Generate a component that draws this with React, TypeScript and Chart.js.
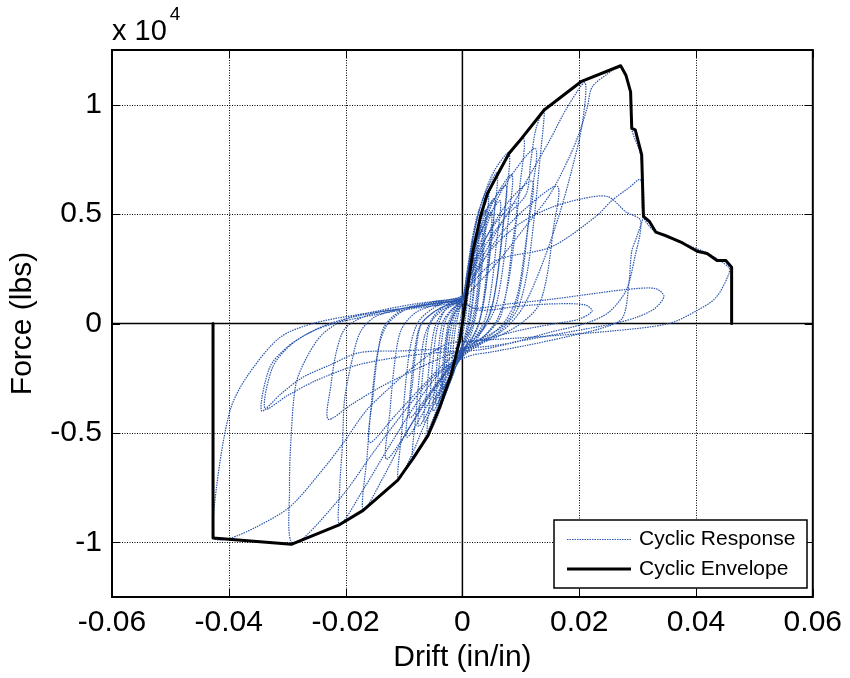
import React, { useEffect, useRef } from 'react';
import { Chart, registerables } from 'chart.js';

Chart.register(...registerables);

const xTickValues = [-0.06, -0.04, -0.02, 0, 0.02, 0.04, 0.06];
const xTickLabels = ['-0.06', '-0.04', '-0.02', '0', '0.02', '0.04', '0.06'];
const yTickValues = [-10000, -5000, 0, 5000, 10000];
const yTickLabels = ['-1', '-0.5', '0', '0.5', '1'];

const legendLabels = ['Cyclic Response', 'Cyclic Envelope'];

const envelopeDrift = [
  -0.0427, -0.0427, -0.040, -0.0293, -0.021, -0.017, -0.0111, -0.0085, -0.0059, -0.0039, -0.0019, -0.0005, 0,
  0.0008, 0.0018, 0.0031, 0.0043, 0.008, 0.0097, 0.014, 0.0203, 0.0271, 0.028, 0.0288, 0.029, 0.0296, 0.0307,
  0.031, 0.032, 0.0331, 0.0347, 0.0377, 0.0402, 0.0419, 0.0436, 0.0451, 0.0461, 0.0461,
];
const envelopeForce = [
  0, -9800, -9860, -10090, -9190, -8540, -7175, -6190, -5125, -3835, -2315, -800, 0,
  1500, 3300, 4900, 5960, 7780, 8315, 9760, 11050, 11780, 11350, 10590, 8920, 8850, 7710,
  4900, 4670, 4180, 4030, 3680, 3300, 3200, 2880, 2880, 2570, 0,
];

type P = [number, number];

const cycle01: P[] = [[0, 0], [0.0004, 700], [0.0008, 1250], [0.001, 1500], [0.0008, 900], [0.0005, 200], [0.0002, -300], [-0.0002, -700], [-0.0006, -1050], [-0.001, -1300], [-0.0008, -700], [-0.0005, -100], [-0.0002, 400], [0, 600]];
const cycle02: P[] = [[0.0005, 1300], [0.001, 2100], [0.0015, 2650], [0.002, 3000], [0.0017, 2000], [0.0012, 700], [0.0008, -100], [0.0003, -700], [-0.0003, -1200], [-0.001, -1800], [-0.0015, -2250], [-0.002, -2500], [-0.0017, -1500], [-0.0013, -400], [-0.0008, 300], [-0.0003, 800], [0, 1000]];
const cycle03: P[] = [[0.0005, 1400], [0.0012, 2400], [0.0019, 3100], [0.0025, 3500], [0.0021, 2200], [0.0016, 800], [0.001, -100], [0.0004, -700], [-0.0004, -1200], [-0.0012, -1700], [-0.0019, -2100], [-0.0025, -2300], [-0.0021, -1300], [-0.0016, -300], [-0.001, 400], [-0.0004, 800], [0, 950]];
const cycle04: P[] = [[0.0006, 1900], [0.0013, 3000], [0.0022, 4000], [0.003, 4600], [0.0026, 3200], [0.002, 1500], [0.0014, 200], [0.0008, -500], [0.0002, -1000], [-0.0008, -1700], [-0.0018, -2500], [-0.0027, -3000], [-0.0035, -3300], [-0.0031, -2100], [-0.0026, -800], [-0.002, 100], [-0.0012, 600], [-0.0004, 900], [0, 1100]];
const cycle05: P[] = [[0.0007, 2200], [0.0015, 3600], [0.0025, 4900], [0.0035, 5600], [0.0045, 6000], [0.004, 4300], [0.0032, 2200], [0.0024, 500], [0.0016, -400], [0.0006, -1000], [-0.0005, -1500], [-0.0015, -2200], [-0.0028, -3200], [-0.004, -3850], [-0.0036, -2500], [-0.003, -1000], [-0.0024, 0], [-0.0015, 600], [-0.0005, 950], [0, 1100]];
const cycle06: P[] = [[0.0008, 2000], [0.0018, 3200], [0.0028, 4000], [0.0035, 4400], [0.003, 2800], [0.0024, 1200], [0.0016, 0], [0.0008, -600], [-0.0002, -1100], [-0.0012, -1800], [-0.0022, -2400], [-0.003, -2800], [-0.0026, -1600], [-0.002, -300], [-0.0012, 500], [-0.0004, 900], [0, 1050]];
const cycle07: P[] = [[0.0008, 2300], [0.0018, 3900], [0.003, 5300], [0.0045, 6300], [0.006, 6900], [0.0054, 4900], [0.0045, 2600], [0.0036, 900], [0.0026, -200], [0.0012, -900], [0, -1400], [-0.0015, -2200], [-0.003, -3300], [-0.0045, -4400], [-0.006, -5100], [-0.0056, -3500], [-0.005, -1600], [-0.0043, -200], [-0.003, 600], [-0.0015, 1000], [0, 1200]];
const cycle08: P[] = [[0.001, 2300], [0.002, 3500], [0.0035, 4600], [0.005, 5100], [0.0045, 3300], [0.0038, 1500], [0.003, 200], [0.0018, -600], [0.0005, -1100], [-0.001, -1700], [-0.0025, -2700], [-0.0045, -3700], [-0.0041, -2300], [-0.0035, -700], [-0.0028, 200], [-0.0015, 700], [0, 1000]];
const cycle09: P[] = [[0.0009, 2200], [0.002, 3600], [0.0035, 4900], [0.0055, 5700], [0.0049, 3800], [0.0041, 1800], [0.0032, 400], [0.002, -500], [0.0006, -1000], [-0.001, -1700], [-0.003, -2900], [-0.005, -4000], [-0.0046, -2600], [-0.004, -900], [-0.0033, 100], [-0.002, 600], [-0.0007, 900], [0, 1050]];
const cycle10: P[] = [[0.0009, 2400], [0.002, 4100], [0.0035, 5700], [0.0055, 7000], [0.008, 7800], [0.0074, 5600], [0.0065, 3200], [0.0055, 1300], [0.0042, 100], [0.0025, -700], [0.0005, -1300], [-0.0015, -2100], [-0.0035, -3300], [-0.006, -5000], [-0.0085, -6200], [-0.008, -4300], [-0.0073, -2200], [-0.0065, -600], [-0.005, 300], [-0.003, 800], [-0.001, 1100], [0, 1200]];
const cycle11: P[] = [[0.001, 2100], [0.0025, 3700], [0.0045, 4900], [0.0065, 5600], [0.0058, 3600], [0.005, 1700], [0.004, 300], [0.0025, -500], [0.0008, -1100], [-0.0012, -1800], [-0.0035, -2900], [-0.0065, -4500], [-0.006, -2800], [-0.0053, -1000], [-0.0045, 0], [-0.003, 600], [-0.0012, 900], [0, 1100]];
const cycle12: P[] = [[0.001, 2300], [0.0025, 3900], [0.0045, 5300], [0.0075, 6300], [0.0068, 4200], [0.0059, 2000], [0.0048, 500], [0.003, -400], [0.001, -1000], [-0.0015, -1800], [-0.0045, -3300], [-0.0075, -4700], [-0.007, -2900], [-0.0063, -1100], [-0.0055, 0], [-0.0035, 600], [-0.0015, 900], [0, 1100]];
const cycle13: P[] = [[0.001, 2300], [0.0025, 4200], [0.0045, 5900], [0.0075, 7500], [0.0105, 8450], [0.0098, 6200], [0.0088, 3600], [0.0076, 1500], [0.006, 200], [0.004, -500], [0.0015, -1100], [-0.0005, -1700], [-0.003, -2800], [-0.006, -4300], [-0.0085, -5900], [-0.011, -7150], [-0.0104, -5000], [-0.0097, -2700], [-0.0088, -900], [-0.0075, 100], [-0.005, 700], [-0.0025, 1000], [0, 1200]];
const cycle14: P[] = [[0.0012, 2000], [0.003, 3400], [0.006, 4700], [0.0092, 5500], [0.0085, 3500], [0.0076, 1600], [0.0065, 300], [0.0045, -400], [0.002, -900], [-0.0005, -1400], [-0.003, -2200], [-0.006, -3300], [-0.009, -4300], [-0.0085, -2600], [-0.0078, -900], [-0.007, 0], [-0.005, 500], [-0.0025, 850], [0, 1050]];
const cycle15: P[] = [[0.0012, 2000], [0.004, 3600], [0.0075, 4900], [0.0109, 5900], [0.0117, 7400], [0.0126, 8900], [0.014, 9800], [0.0132, 7300], [0.0122, 4600], [0.011, 2200], [0.0095, 700], [0.007, -200], [0.004, -800], [0.001, -1300], [-0.002, -2000], [-0.006, -3400], [-0.010, -5200], [-0.0135, -7000], [-0.017, -8540], [-0.0163, -6000], [-0.0155, -3400], [-0.0145, -1300], [-0.013, -100], [-0.010, 600], [-0.006, 900], [-0.002, 1100], [0, 1300]];
const cycle16: P[] = [[0.0015, 2200], [0.004, 3900], [0.008, 5600], [0.012, 6500], [0.0112, 4300], [0.0102, 2100], [0.009, 700], [0.007, -100], [0.004, -600], [0.0005, -1100], [-0.003, -1800], [-0.007, -2900], [-0.0115, -4200], [-0.0159, -5430], [-0.0153, -3300], [-0.0145, -1400], [-0.0135, -200], [-0.011, 500], [-0.007, 800], [-0.003, 1000], [0, 1150]];
const cycle17: P[] = [[0.0015, 2000], [0.005, 3800], [0.009, 5600], [0.012, 7000], [0.015, 8400], [0.018, 9900], [0.021, 11000], [0.0205, 9090], [0.0188, 7090], [0.0166, 4990], [0.0135, 2600], [0.0103, 710], [0.007, -300], [0.003, -900], [0, -1400], [-0.004, -2300], [-0.008, -3700], [-0.0125, -5600], [-0.017, -7600], [-0.021, -9190], [-0.021, -7480], [-0.0205, -5350], [-0.0202, -3530], [-0.019, -1800], [-0.0175, -400], [-0.015, 300], [-0.01, 700], [-0.005, 1000], [0, 1250]];
const cycle18: P[] = [[0.002, 2100], [0.006, 3900], [0.011, 5300], [0.0163, 6260], [0.0155, 4200], [0.0145, 2200], [0.013, 800], [0.01, 0], [0.006, -600], [0.002, -1000], [-0.003, -1500], [-0.008, -2100], [-0.014, -2900], [-0.019, -3700], [-0.023, -4370], [-0.0225, -2800], [-0.0215, -1200], [-0.02, -200], [-0.016, 400], [-0.01, 700], [-0.004, 950], [0, 1100]];
const cycle19: P[] = [[0.0015, 1500], [0.006, 2800], [0.011, 4500], [0.015, 5900], [0.0183, 7600], [0.02, 8700], [0.0214, 9900], [0.0222, 10800], [0.0248, 11400], [0.027, 11750], [0.028, 11300], [0.0288, 10500], [0.029, 8900], [0.0305, 7700], [0.031, 5000], [0.0299, 4000], [0.029, 3300], [0.0285, 1800], [0.0274, 250], [0.024, -200], [0.018, -600], [0.011, -1000], [0.005, -1300], [0.001, -1500], [-0.004, -2200], [-0.009, -3700], [-0.015, -5800], [-0.021, -8000], [-0.029, -10050], [-0.0296, -7480], [-0.0293, -5040], [-0.0285, -2760], [-0.0267, -1570], [-0.024, -500], [-0.02, 200], [-0.014, 600], [-0.008, 900], [-0.002, 1100], [0, 1200]];
const cycle20: P[] = [[0.0015, 2000], [0.005, 3400], [0.01, 4600], [0.0152, 5300], [0.0205, 5700], [0.0249, 5800], [0.028, 5100], [0.0305, 4700], [0.0295, 3000], [0.028, 1500], [0.025, 500], [0.021, 0], [0.015, -400], [0.008, -900], [0.002, -1100], [-0.003, -1150], [-0.01, -1250], [-0.0176, -1330], [-0.0227, -1900], [-0.0274, -2470], [-0.031, -3200], [-0.0344, -3990], [-0.033, -2010], [-0.0301, -1100], [-0.0267, -490], [-0.0227, 0], [-0.017, 400], [-0.01, 700], [-0.004, 950], [0, 1100]];
const cycle21: P[] = [[0.0015, 1800], [0.006, 2900], [0.0152, 3500], [0.0229, 4900], [0.0255, 5600], [0.0285, 6200], [0.0305, 6570], [0.031, 4900], [0.033, 4200], [0.0377, 3680], [0.042, 3200], [0.0456, 2570], [0.0456, 2250], [0.0434, 1180], [0.04, 570], [0.0354, 0], [0.0257, -340], [0.0132, -600], [0.0017, -800], [-0.0028, -950], [-0.0085, -2010], [-0.013, -3070], [-0.0165, -3990], [-0.0205, -5500], [-0.0245, -6870], [-0.0296, -8390], [-0.0353, -9300], [-0.0401, -9840], [-0.0425, -9800], [-0.0421, -7480], [-0.0398, -3990], [-0.037, -2470], [-0.0313, -650], [-0.0256, 0], [-0.018, 400], [-0.01, 700], [-0.004, 900], [0, 1000]];
const cycle22: P[] = [[0.002, 700], [0.008, 900], [0.015, 1100], [0.022, 1350], [0.028, 1550], [0.033, 1600], [0.0345, 1250], [0.033, 700], [0.03, 300], [0.026, 0], [0.018, -400], [0.01, -800], [0.003, -1200], [-0.003, -1300], [-0.01, -1500], [-0.018, -1900], [-0.025, -2600], [-0.03, -3300], [-0.0338, -3900], [-0.0325, -2000], [-0.0295, -1000], [-0.026, -400], [-0.022, 0], [-0.015, 400], [-0.008, 700], [0, 900]];
const cycle23: P[] = [[0.003, 600], [0.01, 800], [0.016, 900], [0.021, 850], [0.0222, 570], [0.02, 200], [0.016, 0], [0.01, -300], [0.004, -700], [0, -900]];
const cycle24: P[] = [[0.0006, 1700], [0.0015, 3000], [0.0028, 4400], [0.004, 5200], [0.0035, 3500], [0.0028, 1600], [0.002, 200], [0.001, -600], [-0.0005, -1300], [-0.0018, -2200], [-0.0035, -3000], [-0.0031, -1800], [-0.0025, -400], [-0.0015, 400], [0, 900]];
const cycle25: P[] = [[0.001, 2000], [0.0028, 3800], [0.0055, 5700], [0.0085, 6800], [0.0078, 4600], [0.0068, 2300], [0.0056, 700], [0.0035, -300], [0.001, -1000], [-0.002, -1900], [-0.0055, -3500], [-0.0095, -5200], [-0.009, -3300], [-0.0082, -1300], [-0.0072, -100], [-0.0045, 600], [-0.0015, 950], [0, 1100]];
const cycle26: P[] = [[0.0012, 2100], [0.0035, 4000], [0.007, 6200], [0.0125, 8000], [0.0117, 5600], [0.0105, 3000], [0.0092, 1100], [0.007, 0], [0.004, -700], [0.001, -1200], [-0.003, -2300], [-0.008, -4300], [-0.013, -6200], [-0.0124, -4000], [-0.0116, -1800], [-0.0105, -300], [-0.008, 500], [-0.004, 900], [0, 1150]];

const responseCycles: P[][] = [
  cycle01, cycle02, cycle03, cycle04, cycle24, cycle05, cycle06, cycle07, cycle08, cycle09, cycle10, cycle11, cycle12,
  cycle25, cycle13, cycle14, cycle26, cycle15, cycle16, cycle17, cycle18, cycle19, cycle20, cycle21, cycle22, cycle23,
];

const FONT = "'Liberation Sans', Arial, Helvetica, sans-serif";
const BLUE = '#2a56ae';

const framePlugin = {
  id: 'matlabFrame',
  beforeDatasetsDraw(chart: any) {
    const { ctx, chartArea: a, scales } = chart;
    const x = scales.x;
    const y = scales.y;
    ctx.save();
    ctx.strokeStyle = '#000';
    ctx.lineWidth = 1;
    ctx.setLineDash([1, 1.5]);
    xTickValues.forEach((v) => {
      if (v === 0 || v === xTickValues[0] || v === xTickValues[xTickValues.length - 1]) return;
      const px = Math.round(x.getPixelForValue(v)) + 0.5;
      ctx.beginPath();
      ctx.moveTo(px, a.top);
      ctx.lineTo(px, a.bottom);
      ctx.stroke();
    });
    yTickValues.forEach((v) => {
      if (v === 0) return;
      const py = Math.round(y.getPixelForValue(v)) + 0.5;
      ctx.beginPath();
      ctx.moveTo(a.left, py);
      ctx.lineTo(a.right, py);
      ctx.stroke();
    });
    ctx.setLineDash([]);
    ctx.lineWidth = 1.5;
    const x0 = x.getPixelForValue(0);
    const y0 = y.getPixelForValue(0);
    ctx.beginPath();
    ctx.moveTo(x0, a.top);
    ctx.lineTo(x0, a.bottom);
    ctx.moveTo(a.left, y0);
    ctx.lineTo(a.right, y0);
    ctx.stroke();
    ctx.restore();
  },
  afterDatasetsDraw(chart: any) {
    const { ctx, chartArea: a, scales } = chart;
    const x = scales.x;
    const y = scales.y;
    ctx.save();
    ctx.strokeStyle = '#000';
    ctx.lineWidth = 1;
    const tl = 8;
    xTickValues.forEach((v) => {
      const px = Math.round(x.getPixelForValue(v)) + 0.5;
      ctx.beginPath();
      ctx.moveTo(px, a.bottom);
      ctx.lineTo(px, a.bottom - tl);
      ctx.moveTo(px, a.top);
      ctx.lineTo(px, a.top + tl);
      ctx.stroke();
    });
    yTickValues.forEach((v) => {
      const py = Math.round(y.getPixelForValue(v)) + 0.5;
      ctx.beginPath();
      ctx.moveTo(a.left, py);
      ctx.lineTo(a.left + tl, py);
      ctx.moveTo(a.right, py);
      ctx.lineTo(a.right - tl, py);
      ctx.stroke();
    });
    ctx.lineWidth = 2;
    ctx.strokeRect(a.left, a.top, a.right - a.left, a.bottom - a.top);

    // exponent label
    ctx.fillStyle = '#000';
    ctx.textBaseline = 'alphabetic';
    ctx.textAlign = 'left';
    ctx.font = `29px ${FONT}`;
    ctx.fillText('x 10', a.left, 40);
    const w = ctx.measureText('x 10').width;
    ctx.font = `19px ${FONT}`;
    ctx.fillText('4', a.left + w + 3, 20);

    // legend
    const lx = 554;
    const ly = 520;
    const lw = 253;
    const lh = 68;
    ctx.fillStyle = '#fff';
    ctx.fillRect(lx, ly, lw, lh);
    ctx.lineWidth = 1.5;
    ctx.strokeStyle = '#000';
    ctx.strokeRect(lx, ly, lw, lh);
    const rows = [ly + 19, ly + 49];
    ctx.strokeStyle = BLUE;
    ctx.lineWidth = 1.2;
    ctx.setLineDash([1.5, 1]);
    ctx.beginPath();
    ctx.moveTo(567, rows[0] + 0.5);
    ctx.lineTo(631, rows[0] + 0.5);
    ctx.stroke();
    ctx.setLineDash([]);
    ctx.strokeStyle = '#000';
    ctx.lineWidth = 3;
    ctx.beginPath();
    ctx.moveTo(567, rows[1]);
    ctx.lineTo(631, rows[1]);
    ctx.stroke();
    ctx.fillStyle = '#000';
    ctx.font = `21px ${FONT}`;
    ctx.textBaseline = 'middle';
    ctx.fillText(legendLabels[0], 639, rows[0]);
    ctx.fillText(legendLabels[1], 639, rows[1]);
    ctx.restore();
  },
};

export default function App() {
  const ref = useRef<HTMLCanvasElement>(null);
  useEffect(() => {
    const canvas = ref.current;
    if (!canvas) return;
    const responsePoints = responseCycles.flat().map(([dx, fy]) => ({ x: dx, y: fy }));
    const envelopePoints = envelopeDrift.map((d, i) => ({ x: d, y: envelopeForce[i] }));
    const chart = new Chart(canvas, {
      type: 'scatter',
      data: {
        datasets: [
          {
            label: legendLabels[0],
            data: responsePoints,
            showLine: true,
            borderColor: BLUE,
            backgroundColor: BLUE,
            borderWidth: 1.2,
            borderDash: [1.5, 1],
            pointRadius: 0,
            fill: false,
            tension: 0.3,
            order: 2,
          },
          {
            label: legendLabels[1],
            data: envelopePoints,
            showLine: true,
            borderColor: '#000',
            backgroundColor: '#000',
            borderWidth: 3,
            pointRadius: 0,
            fill: false,
            tension: 0,
            borderJoinStyle: 'round',
            order: 1,
          },
        ],
      },
      options: {
        responsive: false,
        maintainAspectRatio: false,
        animation: false,
        layout: { padding: { top: 50, right: 35, bottom: 0, left: 0 } },
        plugins: { legend: { display: false }, tooltip: { enabled: false } },
        scales: {
          x: {
            type: 'linear',
            min: -0.06,
            max: 0.06,
            afterBuildTicks: (s: any) => {
              s.ticks = xTickValues.map((v) => ({ value: v }));
            },
            afterFit: (s: any) => {
              s.height = 81;
            },
            grid: { display: false, drawTicks: false },
            border: { display: false },
            ticks: {
              autoSkip: false,
              maxRotation: 0,
              padding: 8,
              color: '#000',
              font: { family: FONT, size: 30 },
              callback: (v: any) => {
                const i = xTickValues.indexOf(Number(v));
                return i >= 0 ? xTickLabels[i] : '';
              },
            },
            title: {
              display: true,
              text: 'Drift (in/in)',
              color: '#000',
              font: { family: FONT, size: 30 },
              padding: { top: 0, bottom: 2 },
            },
          },
          y: {
            type: 'linear',
            min: -12500,
            max: 12500,
            afterBuildTicks: (s: any) => {
              s.ticks = yTickValues.map((v) => ({ value: v }));
            },
            afterFit: (s: any) => {
              s.width = 112;
            },
            grid: { display: false, drawTicks: false },
            border: { display: false },
            ticks: {
              autoSkip: false,
              padding: 10,
              color: '#000',
              font: { family: FONT, size: 30 },
              callback: (v: any) => {
                const i = yTickValues.indexOf(Number(v));
                return i >= 0 ? yTickLabels[i] : '';
              },
            },
            title: {
              display: true,
              text: 'Force (lbs)',
              color: '#000',
              font: { family: FONT, size: 30 },
              padding: { top: 5, bottom: 0 },
            },
          },
        },
      },
      plugins: [framePlugin],
    } as any);
    return () => chart.destroy();
  }, []);
  return (
    <div style={{ position: 'fixed', left: 0, top: 0, width: 850, height: 678, background: '#fff' }}>
      <canvas ref={ref} width={850} height={678} style={{ display: 'block' }} />
    </div>
  );
}
